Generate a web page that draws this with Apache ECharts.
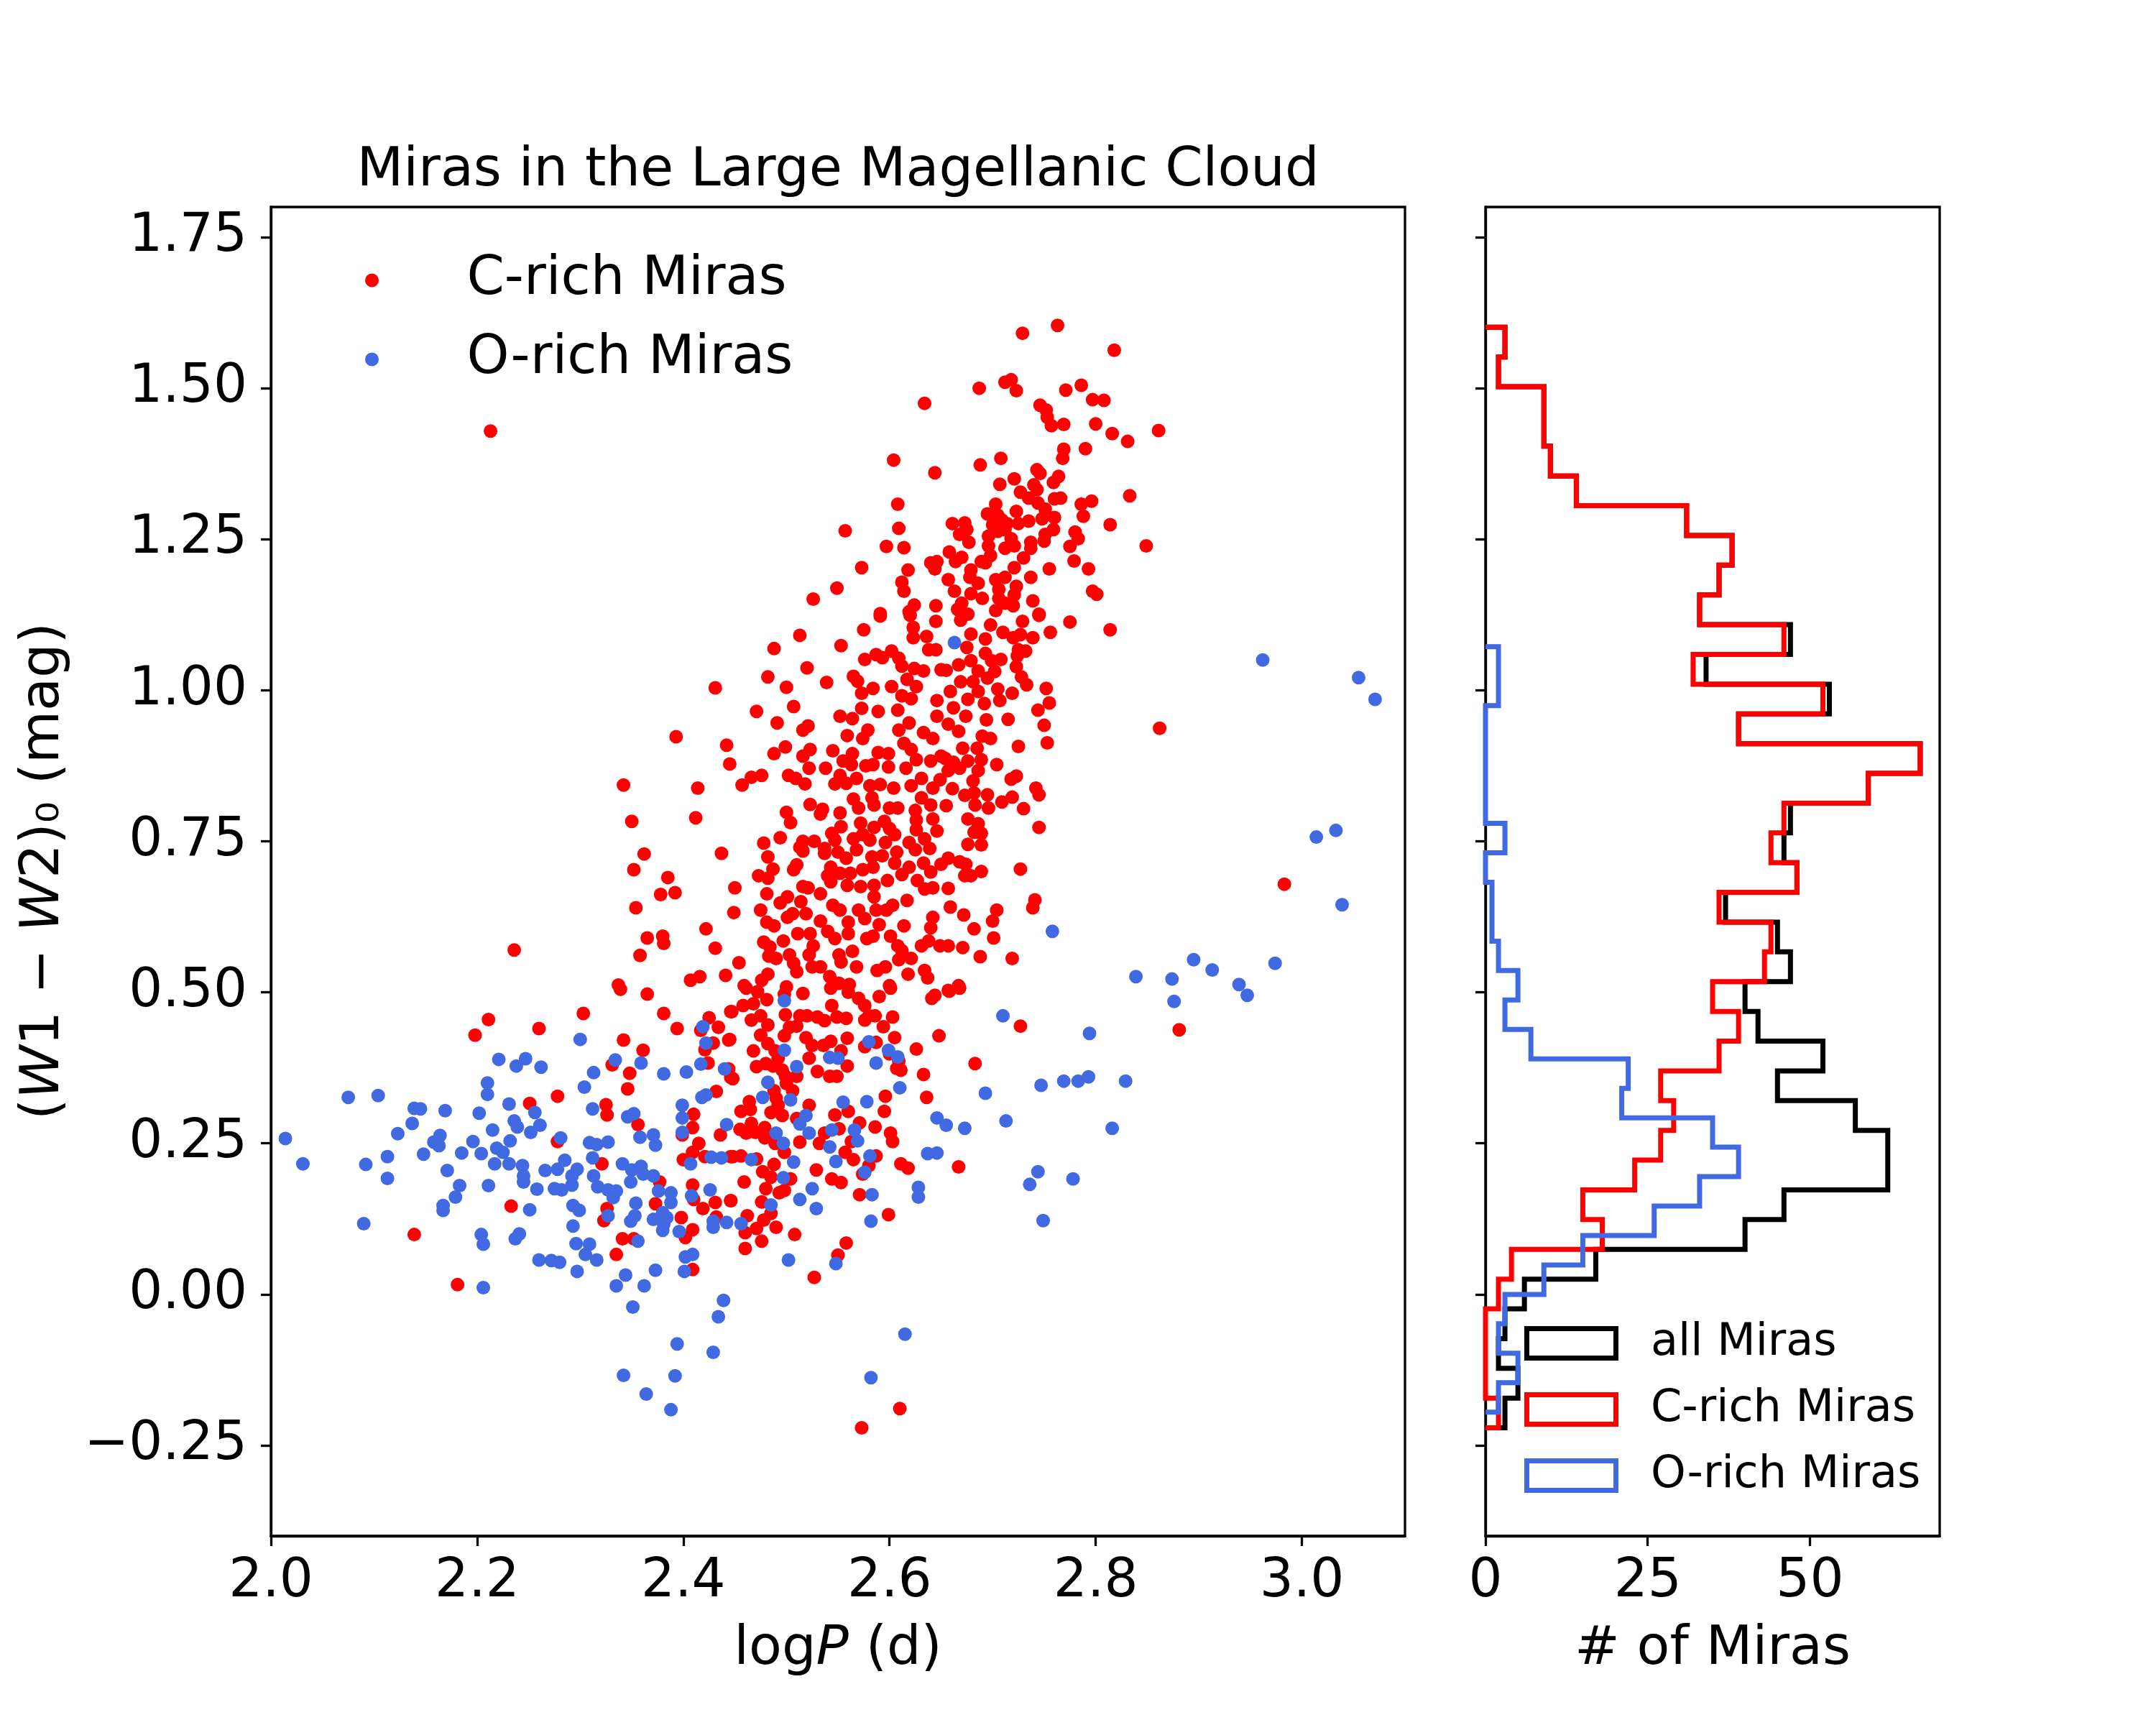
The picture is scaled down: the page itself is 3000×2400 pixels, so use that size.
<!DOCTYPE html>
<html>
<head>
<meta charset="utf-8">
<script src="https://cdn.jsdelivr.net/npm/echarts@6/dist/echarts.min.js"></script>
<style>html,body{margin:0;padding:0;background:#fff}#chart{width:3000px;height:2400px}</style>
</head>
<body>
<div id="chart"></div>
<script>
// ---------- tick labels ----------
const xTicks = [2.0, 2.2, 2.4, 2.6, 2.8, 3.0];
const yTicks = [-0.25, 0, 0.25, 0.5, 0.75, 1.0, 1.25, 1.5, 1.75];
const histTicks = [0, 25, 50];

// ---------- scatter: C-rich Miras [logP, W1-W2] ----------
const cRich = [
[2.211,0.455],[2.198,0.429],[2.260,0.440],[2.303,0.465],[2.381,0.465],[2.394,0.440],[2.339,0.505],[2.365,0.497],[2.342,0.421],[2.361,0.404],[2.331,0.380],[2.348,0.366],[2.346,0.340],[2.278,0.328],[2.251,0.316],[2.325,0.314],[2.326,0.297],[2.356,0.281],[2.278,0.253],[2.321,0.216],[2.233,0.146],[2.326,0.142],[2.323,0.122],[2.139,0.099],[2.341,0.092],[2.352,0.092],[2.335,0.066],[2.181,0.016],[2.409,0.041],[2.402,0.094],[2.409,0.107],[2.398,0.127],[2.419,0.142],[2.431,0.152],[2.432,0.128],[2.410,0.157],[2.409,0.181],[2.373,0.150],[2.377,0.186],[2.400,0.223],[2.409,0.235],[2.415,0.250],[2.421,0.228],[2.436,0.264],[2.409,0.276],[2.410,0.298],[2.432,0.336],[2.424,0.383],[2.421,0.405],[2.429,0.416],[2.434,0.442],[2.425,0.458],[2.417,0.437],[2.445,0.422],[2.446,0.468],[2.446,0.359],[2.446,0.228],[2.446,0.155],[2.399,0.264],
[2.461,0.507],[2.472,0.501],[2.481,0.488],[2.468,0.481],[2.458,0.478],[2.447,0.468],[2.499,0.463],[2.498,0.497],[2.516,0.498],[2.513,0.461],[2.520,0.461],[2.530,0.459],[2.537,0.453],[2.543,0.507],[2.544,0.478],[2.549,0.459],[2.558,0.457],[2.560,0.500],[2.570,0.490],[2.576,0.478],[2.580,0.461],[2.586,0.461],[2.576,0.454],[2.590,0.493],[2.601,0.507],[2.603,0.459],[2.594,0.443],[2.605,0.425],[2.587,0.417],[2.576,0.410],[2.600,0.398],[2.611,0.371],[2.607,0.374],[2.609,0.386],[2.626,0.406],[2.641,0.490],[2.644,0.495],[2.658,0.502],[2.668,0.507],[2.648,0.428],[2.727,0.444],[2.683,0.382],[2.633,0.364],[2.636,0.326],[2.596,0.328],[2.595,0.303],[2.586,0.277],[2.601,0.267],[2.603,0.253],[2.571,0.284],[2.563,0.253],[2.557,0.235],[2.565,0.223],[2.587,0.229],[2.580,0.213],[2.574,0.199],[2.611,0.216],[2.618,0.209],[2.667,0.211],[2.571,0.165],[2.599,0.132],[2.558,0.085],[2.550,0.065],[2.527,0.028],[2.610,-0.189],[2.573,-0.221],[2.508,0.099],[2.490,0.111],[2.476,0.088],[2.460,0.076],[2.460,0.102],[2.471,0.109],[2.478,0.123],[2.462,0.130],[2.485,0.134],[2.476,0.153],[2.480,0.175],[2.446,0.155],[2.459,0.186],[2.493,0.168],[2.498,0.172],[2.504,0.191],[2.529,0.206],[2.544,0.191],[2.553,0.185],[2.488,0.215],[2.477,0.203],[2.485,0.194],[2.471,0.224],[2.456,0.229],[2.448,0.228],[2.498,0.235],[2.489,0.250],[2.513,0.252],[2.532,0.250],[2.537,0.267],[2.551,0.274],[2.479,0.259],[2.470,0.268],[2.461,0.267],[2.455,0.273],[2.466,0.283],[2.479,0.276],[2.456,0.303],[2.465,0.306],[2.464,0.319],[2.485,0.301],[2.496,0.296],[2.510,0.291],[2.522,0.313],[2.547,0.297],[2.560,0.303],[2.492,0.313],[2.490,0.325],[2.488,0.337],[2.506,0.337],[2.500,0.349],[2.499,0.361],[2.510,0.361],[2.496,0.371],[2.487,0.378],[2.480,0.382],[2.471,0.377],[2.448,0.357],[2.444,0.373],[2.468,0.403],[2.475,0.429],[2.482,0.415],[2.489,0.403],[2.492,0.391],[2.482,0.446],[2.466,0.454],[2.475,0.461],[2.498,0.428],[2.503,0.442],[2.510,0.444],[2.519,0.425],[2.525,0.412],[2.522,0.391],[2.530,0.369],[2.542,0.361],[2.549,0.361],[2.536,0.412],[2.543,0.419],[2.553,0.403],[2.559,0.378],[2.559,0.424],[2.444,0.421],
[2.513,1.091],[2.488,1.069],[2.553,1.074],[2.575,1.100],[2.591,1.123],[2.620,1.124],[2.623,1.104],[2.623,1.087],[2.636,1.089],[2.645,1.114],[2.638,1.067],[2.645,1.067],[2.520,1.037],[2.482,1.022],[2.500,1.005],[2.539,1.013],[2.576,1.051],[2.587,1.059],[2.593,1.054],[2.602,1.065],[2.609,1.053],[2.612,1.040],[2.624,1.036],[2.633,1.032],[2.565,1.023],[2.569,1.015],[2.573,0.995],[2.584,1.003],[2.602,1.006],[2.617,1.018],[2.626,1.006],[2.612,0.991],[2.621,0.986],[2.650,1.034],
[2.431,1.004],[2.471,0.965],[2.507,0.973],[2.491,0.946],[2.552,0.957],[2.564,0.953],[2.573,0.970],[2.589,0.965],[2.608,0.967],[2.619,0.946],[2.646,0.983],[2.646,0.957],[2.521,0.941],[2.516,0.934],[2.393,0.923],[2.559,0.925],[2.574,0.920],[2.579,0.934],[2.609,0.934],[2.633,0.930],[2.642,0.920],[2.614,0.912],[2.621,0.902],[2.640,0.883],[2.650,0.891],[2.442,0.909],[2.499,0.906],[2.488,0.895],[2.523,0.902],[2.516,0.891],[2.545,0.900],[2.564,0.895],[2.589,0.897],[2.599,0.895],[2.626,0.885],[2.445,0.878],[2.522,0.871],[2.538,0.871],[2.555,0.883],[2.563,0.877],[2.577,0.875],[2.584,0.877],[2.599,0.873],[2.616,0.871],
[2.342,0.843],[2.414,0.838],[2.457,0.843],[2.466,0.856],[2.476,0.859],[2.502,0.859],[2.509,0.854],[2.518,0.845],[2.547,0.845],[2.558,0.846],[2.552,0.859],[2.568,0.854],[2.581,0.842],[2.591,0.844],[2.604,0.838],[2.621,0.842],[2.631,0.854],[2.642,0.838],[2.649,0.852],[2.631,0.822],[2.640,0.810],[2.625,0.801],[2.600,0.805],[2.608,0.805],[2.583,0.822],[2.585,0.810],[2.565,0.820],[2.570,0.805],[2.523,0.811],[2.533,0.795],[2.535,0.803],[2.552,0.797],[2.500,0.798],[2.504,0.781],[2.350,0.783],[2.412,0.789],[2.572,0.780],[2.585,0.773],[2.595,0.783],[2.600,0.771],[2.605,0.761],[2.553,0.774],[2.544,0.763],[2.547,0.752],[2.626,0.785],[2.642,0.787],[2.646,0.767],[2.626,0.769],
[2.494,0.756],[2.478,0.747],[2.482,0.724],[2.516,0.750],[2.513,0.740],[2.516,0.734],[2.527,0.750],[2.537,0.738],[2.537,0.730],[2.550,0.732],[2.558,0.722],[2.565,0.754],[2.574,0.761],[2.581,0.752],[2.568,0.736],[2.583,0.724],[2.593,0.726],[2.596,0.748],[2.607,0.732],[2.619,0.748],[2.625,0.736],[2.634,0.754],[2.639,0.738],[2.437,0.730],[2.362,0.729],[2.352,0.703],[2.487,0.704],[2.507,0.703],[2.510,0.711],[2.473,0.693],[2.482,0.689],[2.543,0.707],[2.540,0.693],[2.552,0.697],[2.562,0.697],[2.574,0.703],[2.584,0.707],[2.605,0.714],[2.612,0.695],[2.619,0.707],[2.633,0.714],[2.640,0.699],[2.650,0.712],
[2.385,0.690],[2.378,0.662],[2.392,0.665],[2.450,0.673],[2.481,0.663],[2.516,0.675],[2.521,0.673],[2.533,0.663],[2.543,0.683],[2.559,0.677],[2.572,0.675],[2.585,0.677],[2.598,0.685],[2.627,0.685],[2.634,0.671],[2.642,0.673],[2.354,0.640],[2.449,0.632],[2.475,0.636],[2.494,0.648],[2.501,0.658],[2.514,0.650],[2.519,0.630],[2.545,0.644],[2.552,0.636],[2.585,0.658],[2.570,0.636],[2.587,0.636],[2.597,0.636],[2.603,0.644],[2.617,0.652],[2.642,0.624],[2.640,0.607],[2.481,0.616],[2.488,0.610],[2.501,0.624],[2.506,0.630],[2.533,0.618],[2.560,0.616],[2.576,0.622],[2.590,0.612],[2.614,0.610],
[2.422,0.605],[2.365,0.590],[2.380,0.593],[2.381,0.581],[2.358,0.561],[2.431,0.573],[2.454,0.549],[2.478,0.583],[2.484,0.575],[2.497,0.585],[2.511,0.597],[2.523,0.597],[2.526,0.577],[2.522,0.562],[2.540,0.601],[2.547,0.589],[2.560,0.597],[2.551,0.562],[2.564,0.568],[2.553,0.550],[2.578,0.589],[2.584,0.593],[2.601,0.593],[2.608,0.577],[2.612,0.569],[2.631,0.577],[2.638,0.585],[2.649,0.577],[2.609,0.554],[2.621,0.556],[2.618,0.530],[2.634,0.536],[2.637,0.524],[2.483,0.560],[2.490,0.556],[2.503,0.562],[2.507,0.548],[2.510,0.534],[2.525,0.542],[2.533,0.542],[2.542,0.526],[2.568,0.542],[2.588,0.536],[2.596,0.542],[2.441,0.528],[2.416,0.526],[2.407,0.520],[2.337,0.512],[2.482,0.530],[2.476,0.520],[2.459,0.511],[2.500,0.509],[2.551,0.515],[2.561,0.513],[2.600,0.511],
[2.775,1.113],[2.814,1.100],[2.756,1.096],[2.745,1.124],[2.739,1.087],[2.729,1.114],[2.720,1.087],[2.727,1.092],[2.710,1.096],[2.698,1.108],[2.679,1.093],[2.669,1.116],[2.675,1.071],[2.693,1.085],[2.732,1.065],[2.725,1.067],[2.724,1.057],[2.693,1.061],[2.708,1.051],[2.699,1.049],[2.679,1.049],[2.667,1.042],[2.655,1.033],[2.723,1.039],[2.702,1.031],[2.686,1.032],[2.695,1.020],[2.728,1.022],[2.733,1.009],[2.669,1.014],[2.681,1.014],[2.705,1.002],[2.752,1.003],[2.719,0.995],[2.707,0.983],[2.755,0.979],[2.659,0.998],[2.686,0.998],[2.676,0.985],[2.692,0.978],[2.662,0.971],[2.744,0.967],[2.674,0.957],[2.694,0.951],[2.715,0.952],[2.750,0.942],[2.657,0.944],[2.862,0.937],[2.667,0.932],[2.690,0.924],[2.698,0.920],[2.753,0.913],[2.725,0.907],[2.671,0.904],[2.685,0.904],
[2.654,0.887],[2.662,0.881],[2.676,0.883],[2.689,0.885],[2.704,0.877],[2.657,0.867],[2.668,0.871],[2.686,0.867],[2.681,0.850],[2.723,0.858],[2.718,0.853],[2.742,0.838],[2.745,0.827],[2.661,0.837],[2.673,0.826],[2.682,0.830],[2.695,0.827],[2.719,0.823],[2.709,0.815],[2.655,0.809],[2.683,0.810],[2.696,0.805],[2.730,0.804],[2.676,0.787],[2.686,0.779],[2.682,0.765],[2.689,0.763],[2.745,0.773],[2.676,0.745],[2.689,0.744],[2.657,0.722],[2.668,0.716],[2.674,0.712],[2.673,0.693],[2.679,0.693],[2.689,0.700],[2.727,0.704],[2.657,0.672],[2.983,0.679],[2.741,0.653],[2.739,0.640],[2.659,0.641],[2.672,0.628],[2.704,0.636],[2.700,0.618],[2.682,0.605],[2.701,0.590],[2.657,0.577],[2.671,0.574],[2.688,0.559],[2.719,0.556],[2.667,0.511],[2.657,0.503],
[2.634,1.475],[2.687,1.500],[2.604,1.381],[2.644,1.360],[2.688,1.373],[2.708,1.384],[2.707,1.341],[2.608,1.308],[2.557,1.264],[2.609,1.268],[2.597,1.238],[2.614,1.236],[2.573,1.203],[2.549,1.169],[2.526,1.151],[2.591,1.127],[2.618,1.199],[2.612,1.179],[2.614,1.164],[2.624,1.141],[2.619,1.130],[2.645,1.140],[2.657,1.183],[2.663,1.164],[2.640,1.211],[2.646,1.213],[2.644,1.201],[2.658,1.229],[2.664,1.213],[2.670,1.220],[2.661,1.276],[2.673,1.277],[2.668,1.258],[2.675,1.266],[2.677,1.245],[2.679,1.199],[2.678,1.187],[2.686,1.177],[2.679,1.160],[2.690,1.152],[2.670,1.144],[2.666,1.134],[2.676,1.126],[2.695,1.292],[2.703,1.308],[2.705,1.290],[2.700,1.274],[2.709,1.282],[2.696,1.255],[2.705,1.263],[2.698,1.223],[2.693,1.211],[2.689,1.213],[2.703,1.183],[2.706,1.167],[2.706,1.152],[2.703,1.132],[2.696,1.239],
[2.729,1.591],[2.763,1.604],[2.818,1.563],[2.712,1.510],[2.718,1.514],[2.723,1.496],[2.771,1.497],[2.786,1.505],[2.797,1.481],[2.808,1.480],[2.746,1.472],[2.752,1.464],[2.753,1.452],[2.757,1.438],[2.769,1.440],[2.800,1.441],[2.816,1.425],[2.831,1.412],[2.861,1.430],[2.769,1.399],[2.768,1.384],[2.790,1.400],[2.743,1.365],[2.746,1.359],[2.721,1.350],[2.764,1.354],[2.759,1.344],[2.740,1.340],[2.743,1.332],[2.727,1.328],[2.735,1.318],[2.744,1.310],[2.760,1.317],[2.766,1.318],[2.786,1.308],[2.796,1.313],[2.833,1.322],[2.788,1.288],[2.751,1.300],[2.760,1.286],[2.723,1.296],[2.735,1.280],[2.748,1.284],[2.725,1.276],[2.714,1.276],[2.712,1.266],[2.814,1.274],[2.759,1.266],[2.751,1.258],[2.780,1.262],[2.783,1.251],[2.775,1.238],[2.849,1.239],[2.750,1.247],[2.737,1.245],[2.737,1.235],[2.718,1.251],[2.721,1.239],[2.712,1.235],[2.730,1.219],[2.779,1.214],[2.755,1.201],[2.793,1.201],[2.721,1.203],[2.737,1.187],[2.712,1.187],[2.723,1.172],[2.797,1.164],[2.801,1.159],[2.721,1.158],[2.739,1.148],[2.712,1.144],[2.720,1.140],[2.745,1.126],
[2.213,1.429],[2.236,0.570],[2.881,0.438]
];

// ---------- scatter: O-rich Miras [logP, W1-W2] ----------
const oRich = [
[2.014,0.258],[2.031,0.216],[2.075,0.326],[2.104,0.329],[2.092,0.215],[2.113,0.228],[2.113,0.192],[2.090,0.117],[2.123,0.266],[2.137,0.283],[2.139,0.308],[2.145,0.307],[2.148,0.232],[2.158,0.252],[2.164,0.263],[2.163,0.246],[2.169,0.304],[2.171,0.205],[2.185,0.234],[2.183,0.180],[2.179,0.161],[2.167,0.147],[2.167,0.139],[2.196,0.253],[2.202,0.300],[2.210,0.350],[2.210,0.331],[2.221,0.389],[2.215,0.272],[2.204,0.233],[2.219,0.242],[2.217,0.216],[2.225,0.235],[2.231,0.315],[2.232,0.254],[2.231,0.216],[2.211,0.180],[2.204,0.099],[2.206,0.083],[2.206,0.011],
[2.238,0.378],[2.247,0.390],[2.262,0.376],[2.236,0.287],[2.239,0.277],[2.256,0.301],[2.252,0.268],[2.261,0.280],[2.244,0.213],[2.245,0.196],[2.245,0.186],[2.258,0.174],[2.251,0.140],[2.241,0.100],[2.237,0.092],[2.260,0.057],[2.272,0.056],[2.280,0.053],[2.266,0.205],[2.278,0.207],[2.285,0.222],[2.297,0.207],[2.292,0.196],[2.275,0.175],[2.282,0.173],[2.292,0.181],[2.281,0.259],
[2.300,0.422],[2.304,0.343],[2.313,0.367],[2.312,0.307],[2.309,0.251],[2.316,0.248],[2.327,0.252],[2.312,0.226],[2.313,0.196],[2.317,0.178],[2.327,0.173],[2.335,0.171],[2.332,0.160],[2.293,0.147],[2.299,0.139],[2.293,0.113],[2.296,0.084],[2.309,0.083],[2.305,0.066],[2.316,0.057],[2.297,0.038],[2.327,0.130],
[2.334,0.388],[2.359,0.383],[2.381,0.365],[2.403,0.368],[2.346,0.294],[2.352,0.299],[2.358,0.260],[2.371,0.264],[2.373,0.247],[2.341,0.216],[2.350,0.206],[2.359,0.212],[2.361,0.199],[2.371,0.196],[2.349,0.186],[2.376,0.171],[2.388,0.168],[2.388,0.152],[2.354,0.151],[2.353,0.130],[2.349,0.121],[2.371,0.124],[2.380,0.135],[2.384,0.127],[2.381,0.116],[2.380,0.106],[2.396,0.104],[2.356,0.088],[2.344,0.032],[2.335,0.014],[2.362,0.014],[2.373,0.040],[2.402,0.062],[2.409,0.066],[2.401,0.038],
[2.351,-0.021],[2.394,-0.082],[2.429,-0.096],[2.342,-0.134],[2.392,-0.135],[2.364,-0.165],[2.388,-0.191],[2.439,-0.010],[2.434,-0.037],
[2.399,0.313],[2.399,0.292],[2.399,0.268],[2.418,0.326],[2.422,0.330],[2.419,0.443],[2.422,0.416],[2.417,0.381],[2.440,0.373],[2.442,0.281],[2.407,0.216],[2.427,0.227],[2.437,0.226],[2.426,0.173],[2.408,0.163],[2.429,0.121],[2.429,0.111],[2.442,0.119],
[2.498,0.486],[2.498,0.404],[2.510,0.377],[2.482,0.351],[2.477,0.326],[2.504,0.322],[2.519,0.296],[2.513,0.282],[2.490,0.267],[2.522,0.267],[2.497,0.250],[2.544,0.272],[2.566,0.272],[2.569,0.254],[2.542,0.244],[2.548,0.220],[2.507,0.219],[2.466,0.223],[2.497,0.193],[2.581,0.229],[2.576,0.202],[2.525,0.175],[2.513,0.157],[2.529,0.142],[2.485,0.148],[2.456,0.117],[2.583,0.165],[2.582,0.121],[2.502,0.057],[2.548,0.051],[2.615,-0.066],[2.582,-0.138],
[2.580,0.418],[2.587,0.383],[2.542,0.392],[2.550,0.391],[2.599,0.404],[2.608,0.393],[2.610,0.342],[2.555,0.318],[2.578,0.319],[2.646,0.292],[2.655,0.280],[2.673,0.275],[2.637,0.233],[2.646,0.234],[2.628,0.177],[2.628,0.161],[2.693,0.333],[2.713,0.287],[2.710,0.461],[2.747,0.346],[2.769,0.353],[2.783,0.353],[2.793,0.360],[2.794,0.432],[2.829,0.353],[2.816,0.275],[2.744,0.203],[2.736,0.182],[2.778,0.191],[2.749,0.122],
[2.663,1.079],[2.962,1.050],[3.014,0.757],[2.758,0.601],[2.895,0.554],[2.913,0.537],[2.974,0.548],[2.839,0.526],[2.874,0.522],[2.939,0.513],[2.947,0.495],[2.876,0.485],
[3.055,1.021],[3.071,0.985],[3.033,0.768],[3.039,0.645]
];

// ---------- histograms (counts per bin, from lowest bin upward) ----------
const histRange = [-0.221, 1.601];       // bins of "all" and C-rich histograms
const histAll = [3,5,2,3,6,17,40,46,62,62,57,45,52,42,40,47,45,37,48,46,47,59,67,39,53,34,47,33,36,38,31,14,10,9,9,2,3];
const histC   = [2,0,0,0,2,4,18,15,23,27,29,27,36,39,35,43,44,36,48,44,46,59,67,39,52,32,46,33,36,38,31,14,10,9,9,2,3];
const histORange = [-0.195, 1.072];      // bins of O-rich histogram
const histO   = [2,5,2,3,9,15,26,33,39,35,21,22,7,3,5,2,1,1,0,3,0,0,0,0,2,2];

function stepOutline(counts, range) {
  const n = counts.length, lo = range[0], hi = range[1], w = (hi - lo) / n;
  const pts = [[0, lo]];
  for (let i = 0; i < n; i++) {
    pts.push([counts[i], lo + i * w]);
    pts.push([counts[i], lo + (i + 1) * w]);
  }
  pts.push([0, hi]);
  return pts;
}

const FONT = 'DejaVu Sans';
const RED = '#ff0000', BLUE = '#4169e1', BLACK = '#000000';
const axisLineStyle = { show: true, onZero: false, lineStyle: { color: BLACK, width: 3.3 } };
const tickStyle = (vals) => ({ show: true, inside: false, length: 14, lineStyle: { color: BLACK, width: 3.3 }, customValues: vals });
const fmtY = v => (v < 0 ? '\u2212' : '') + Math.abs(v).toFixed(2);

const chart = echarts.init(document.getElementById('chart'), null, { renderer: 'canvas', width: 3000, height: 2400 });
chart.setOption({
  animation: false,
  backgroundColor: '#ffffff',
  title: {
    text: 'Miras in the Large Magellanic Cloud',
    left: 1166, top: 201, padding: 0, textAlign: 'center',
    textStyle: { fontFamily: FONT, fontSize: 75, fontWeight: 'normal', color: BLACK }
  },
  legend: {
    data: ['C-rich Miras', 'O-rich Miras'],
    orient: 'vertical', left: 508, top: 350, padding: 0,
    itemWidth: 132, itemHeight: 19, itemGap: 30, icon: 'circle', selectedMode: false,
    textStyle: { fontFamily: FONT, fontSize: 75, color: BLACK, lineHeight: 80, padding: [0, 0, 0, 61] }
  },
  grid: [
    { left: 377, top: 288, width: 1578, height: 1849, show: true, borderColor: BLACK, borderWidth: 3.3, containLabel: false },
    { left: 2067, top: 288, width: 632, height: 1849, show: true, borderColor: BLACK, borderWidth: 3.3, containLabel: false }
  ],
  xAxis: [
    { gridIndex: 0, type: 'value', min: 2.0, max: 3.1, position: 'bottom',
      axisLine: axisLineStyle, axisTick: tickStyle(xTicks), splitLine: { show: false },
      axisLabel: { customValues: xTicks, formatter: v => v.toFixed(1), fontFamily: FONT, fontSize: 74, color: BLACK, margin: 28 },
      name: 'log{i|P} (d)', nameLocation: 'middle', nameGap: 121,
      nameTextStyle: { fontFamily: FONT, fontSize: 75, color: BLACK, rich: { i: { fontFamily: FONT, fontSize: 75, fontStyle: 'italic', color: BLACK } } } },
    { gridIndex: 1, type: 'value', min: 0, max: 70, position: 'bottom',
      axisLine: axisLineStyle, axisTick: tickStyle(histTicks), splitLine: { show: false },
      axisLabel: { customValues: histTicks, formatter: v => String(v), fontFamily: FONT, fontSize: 74, color: BLACK, margin: 28 },
      name: '# of Miras', nameLocation: 'middle', nameGap: 121,
      nameTextStyle: { fontFamily: FONT, fontSize: 75, color: BLACK } }
  ],
  yAxis: [
    { gridIndex: 0, type: 'value', min: -0.4, max: 1.8, position: 'left',
      axisLine: axisLineStyle, axisTick: tickStyle(yTicks), splitLine: { show: false },
      axisLabel: { customValues: yTicks, formatter: fmtY, fontFamily: FONT, fontSize: 74, color: BLACK, margin: 33, padding: [8, 0, 0, 0] } },
    { gridIndex: 1, type: 'value', min: -0.4, max: 1.8, position: 'left',
      axisLine: axisLineStyle, axisTick: tickStyle(yTicks), splitLine: { show: false },
      axisLabel: { show: false } }
  ],
  graphic: [
    { type: 'text', x: 62, y: 1212, rotation: Math.PI / 2,
      style: { text: '({i|W}1 \u2212 {i|W}2)\u2080 (mag)', fontFamily: FONT, fontSize: 75, fill: BLACK, align: 'center', verticalAlign: 'middle',
        rich: { i: { fontFamily: FONT, fontSize: 75, fontStyle: 'italic', fill: BLACK } } } },
    { type: 'rect', shape: { x: 2124.5, y: 1848.5, width: 124, height: 41 }, style: { fill: 'none', stroke: BLACK, lineWidth: 7 } },
    { type: 'rect', shape: { x: 2124.5, y: 1940.5, width: 124, height: 41 }, style: { fill: 'none', stroke: RED, lineWidth: 7 } },
    { type: 'rect', shape: { x: 2124.5, y: 2032.5, width: 124, height: 41 }, style: { fill: 'none', stroke: BLUE, lineWidth: 7 } },
    { type: 'text', x: 2297, y: 1869, style: { text: 'all Miras', fontFamily: FONT, fontSize: 62, fill: BLACK, verticalAlign: 'middle' } },
    { type: 'text', x: 2297, y: 1961, style: { text: 'C-rich Miras', fontFamily: FONT, fontSize: 62, fill: BLACK, verticalAlign: 'middle' } },
    { type: 'text', x: 2297, y: 2053, style: { text: 'O-rich Miras', fontFamily: FONT, fontSize: 62, fill: BLACK, verticalAlign: 'middle' } }
  ],
  series: [
    { name: 'C-rich Miras', type: 'scatter', xAxisIndex: 0, yAxisIndex: 0, data: cRich,
      symbol: 'circle', symbolSize: 19, itemStyle: { color: RED, opacity: 1 }, z: 2 },
    { name: 'O-rich Miras', type: 'scatter', xAxisIndex: 0, yAxisIndex: 0, data: oRich,
      symbol: 'circle', symbolSize: 19, itemStyle: { color: BLUE, opacity: 1 }, z: 3 },
    { name: 'all Miras (hist)', type: 'line', xAxisIndex: 1, yAxisIndex: 1, data: stepOutline(histAll, histRange),
      showSymbol: false, symbol: 'none', lineStyle: { color: BLACK, width: 7, join: 'miter', cap: 'butt' }, z: 2 },
    { name: 'C-rich Miras (hist)', type: 'line', xAxisIndex: 1, yAxisIndex: 1, data: stepOutline(histC, histRange),
      showSymbol: false, symbol: 'none', lineStyle: { color: RED, width: 7, join: 'miter', cap: 'butt' }, z: 3 },
    { name: 'O-rich Miras (hist)', type: 'line', xAxisIndex: 1, yAxisIndex: 1, data: stepOutline(histO, histORange),
      showSymbol: false, symbol: 'none', lineStyle: { color: BLUE, width: 7, join: 'miter', cap: 'butt' }, z: 4 }
  ]
});
</script>
</body>
</html>
